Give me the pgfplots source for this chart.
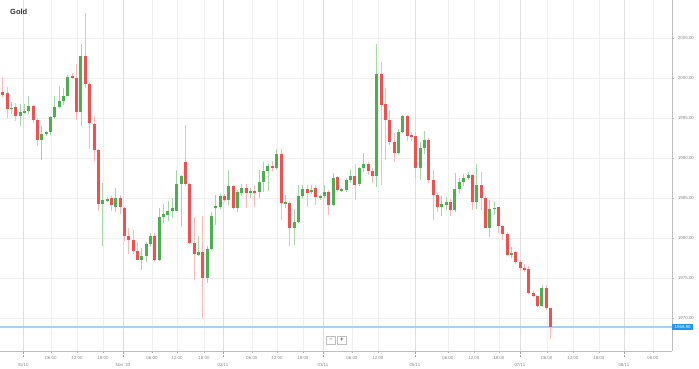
\documentclass[border=0pt]{standalone}
\usepackage{fontspec}
\setmainfont{Liberation Sans}
\usepackage{pgfplots}
\usepackage{pgfplotstable}
\pgfplotsset{compat=1.18}
\definecolor{cgreen}{HTML}{4CAF50}
\definecolor{cred}{HTML}{F44F4F}
\definecolor{pricebox}{HTML}{2196F3}
\definecolor{priceline}{HTML}{A6D3F5}
\definecolor{lbl}{HTML}{8A8A8A}

\pgfplotstableread{
i o h l c
2 1996.1 1997.0 1995.5 1996.3
4 1995.25 1996.7 1994.0 1995.7
5 1995.65 1996.7 1995.5 1995.9
6 1995.9 1997.7 1995.5 1996.5
9 1992.3 1994.0 1989.7 1993.0
10 1993.0 1993.4 1992.7 1993.2
11 1993.2 1995.2 1992.9 1995.1
12 1995.1 1997.75 1994.9 1996.4
13 1996.4 1999.0 1996.2 1997.1
14 1997.1 1998.75 1996.7 1997.75
15 1997.75 2000.4 1997.7 2000.2
18 1995.8 2004.2 1994.0 2002.8
23 1984.25 1986.9 1979.0 1984.75
24 1984.7 1985.1 1984.5 1984.9
26 1983.9 1986.2 1983.3 1985.0
32 1977.25 1978.75 1976.0 1977.75
33 1977.75 1979.5 1977.0 1979.25
34 1979.25 1980.6 1978.9 1980.25
36 1977.25 1983.7 1977.1 1982.6
37 1982.6 1984.3 1981.9 1983.0
38 1982.9 1984.6 1982.1 1983.4
39 1983.4 1985.0 1982.5 1983.75
40 1983.4 1988.5 1983.4 1986.8
41 1986.8 1987.9 1981.4 1987.75
45 1977.9 1980.2 1977.7 1978.2
47 1975.0 1979.0 1974.4 1978.6
48 1978.6 1983.3 1978.5 1982.7
49 1983.8 1985.4 1981.6 1984.0
50 1983.9 1985.5 1983.6 1985.25
52 1984.75 1988.5 1984.1 1986.5
54 1983.7 1986.0 1983.2 1985.7
55 1985.6 1986.8 1985.2 1986.2
57 1985.7 1986.2 1985.0 1985.9
59 1985.7 1988.5 1985.0 1987.0
60 1987.0 1989.5 1985.75 1988.4
61 1988.4 1989.25 1985.9 1989.0
63 1988.8 1991.1 1988.5 1990.5
65 1984.3 1985.4 1983.7 1984.5
67 1981.3 1983.6 1979.1 1982.0
68 1982.0 1986.6 1981.9 1985.2
69 1985.2 1986.6 1984.9 1986.1
71 1985.7 1986.6 1985.5 1986.0
73 1985.0 1985.4 1984.8 1985.2
74 1985.2 1986.6 1984.9 1985.8
76 1984.1 1988.1 1984.0 1987.5
78 1985.9 1986.3 1985.7 1986.1
79 1986.0 1987.5 1985.7 1987.25
80 1987.25 1988.6 1986.9 1987.75
82 1986.7 1988.9 1986.5 1988.7
83 1988.7 1990.6 1988.3 1989.3
86 1987.7 2004.3 1986.4 2000.5
91 1990.6 1993.6 1990.4 1993.3
92 1993.3 1995.4 1993.1 1995.25
96 1988.7 1992.0 1987.25 1991.3
97 1991.3 1993.4 1990.5 1992.3
101 1983.9 1985.2 1982.7 1984.2
102 1984.1 1985.1 1983.5 1984.5
104 1983.5 1988.1 1983.3 1986.1
105 1986.1 1987.5 1985.6 1987.0
106 1987.0 1988.0 1986.5 1987.5
107 1987.5 1988.2 1987.2 1987.9
109 1984.5 1989.25 1983.6 1986.6
112 1981.2 1984.75 1980.1 1983.6
113 1983.6 1984.6 1982.9 1983.8
117 1977.85 1978.9 1977.5 1978.1
124 1971.5 1974.1 1971.4 1973.8
}\greencandles

\pgfplotstableread{
i o h l c
0 1998.2 2000.1 1997.6 1997.9
1 1998.1 1998.9 1995.0 1996.1
3 1996.4 1996.9 1994.6 1995.3
7 1996.5 1996.6 1994.4 1994.75
8 1994.75 1995.0 1991.5 1992.3
16 2000.2 2000.6 1999.9 2000.0
17 2000.05 2001.7 1994.8 1995.8
19 2002.8 2008.1 1998.75 1999.3
20 1999.3 1999.5 1991.1 1994.4
21 1994.3 1995.2 1989.6 1991.0
22 1991.0 1991.1 1983.4 1984.3
25 1985.0 1985.3 1983.4 1984.1
27 1985.0 1985.4 1983.0 1983.9
28 1983.8 1983.9 1979.6 1980.2
29 1980.2 1981.3 1978.0 1979.75
30 1979.75 1981.0 1978.0 1978.4
31 1978.4 1979.5 1977.2 1977.25
35 1980.25 1980.6 1977.0 1977.25
42 1989.5 1994.1 1986.5 1986.75
43 1986.75 1986.9 1979.25 1979.4
44 1979.4 1982.7 1974.75 1978.0
46 1978.3 1982.7 1970.0 1975.0
51 1985.25 1985.5 1984.5 1984.75
53 1986.5 1986.6 1983.5 1983.7
56 1986.2 1986.8 1983.8 1985.6
58 1985.9 1986.6 1983.9 1985.6
62 1989.0 1989.6 1988.4 1988.8
64 1990.5 1991.1 1982.3 1984.4
66 1984.4 1984.6 1979.0 1981.3
70 1986.1 1986.6 1983.9 1985.6
72 1986.3 1986.6 1984.1 1985.1
75 1985.8 1986.0 1982.9 1984.1
77 1987.6 1987.8 1985.8 1986.0
81 1987.75 1989.3 1984.75 1986.7
84 1989.3 1989.5 1987.9 1988.4
85 1988.4 1988.8 1986.9 1987.7
87 2000.5 2002.0 1986.6 1996.6
88 1996.8 1998.75 1989.75 1994.75
89 1994.75 1996.0 1991.6 1992.0
90 1992.0 1993.1 1989.5 1990.6
93 1995.25 1995.4 1992.1 1992.75
94 1992.9 1993.3 1992.1 1992.6
95 1992.7 1993.3 1987.5 1988.7
98 1992.3 1992.5 1986.9 1987.25
99 1987.25 1988.5 1982.25 1985.4
100 1985.4 1985.6 1983.3 1983.9
103 1984.5 1984.9 1982.7 1983.5
108 1987.9 1988.0 1983.5 1984.5
110 1986.6 1988.3 1983.5 1985.0
111 1985.0 1985.2 1981.2 1981.2
114 1983.9 1983.9 1980.6 1981.5
115 1981.5 1981.6 1979.75 1980.5
116 1980.5 1980.75 1977.7 1977.9
118 1978.2 1978.4 1976.8 1977.0
119 1977.0 1977.2 1975.9 1976.2
120 1976.2 1976.8 1975.8 1976.0
121 1976.1 1976.5 1973.0 1973.1
122 1973.1 1973.4 1972.6 1972.75
123 1972.75 1972.8 1971.4 1971.5
125 1973.8 1974.1 1971.0 1971.2
126 1971.2 1971.3 1967.4 1968.9
}\redcandles

\begin{document}
\begin{tikzpicture}
\path[use as bounding box] (0,0) rectangle (699pt,369pt);
\begin{axis}[
  at={(0pt,18pt)}, anchor=south west,
  scale only axis, width=672pt, height=351pt,
  xmin=-0.62, xmax=153.9, ymin=1965.875, ymax=2009.75,
  clip=false,
  axis x line*=bottom, axis y line*=right,
  axis line style={draw=black!25, line width=0.9pt},
  tick align=outside, major tick length=2pt,
  tick style={draw=black!30, line width=0.5pt},
  ytick={1970,1975,1980,1985,1990,1995,2000,2005},
  yticklabel={\pgfmathprintnumber[assume math mode=true, fixed, fixed zerofill, precision=2, 1000 sep={}]{\tick}},
  yticklabel style={font=\fontsize{4.4}{5}\selectfont, text=lbl, xshift=0.5pt},
  xtick={11.10,17.08,23.06,34.32,40.07,46.28,57.31,63.06,69.03,80.3,86.28,102.36,108.34,114.09,125.13,131.1,137.08,149.5},
  xticklabels={06:00,12:00,18:00,06:00,12:00,18:00,06:00,12:00,18:00,06:00,12:00,06:00,12:00,18:00,06:00,12:00,18:00,06:00},
  xticklabel style={font=\fontsize{4.4}{5}\selectfont, text=lbl, yshift=0.5pt},
  extra x ticks={4.67,27.66,50.64,73.63,94.78,118.92,142.83},
  extra x tick labels={31/10,Nov '23,02/11,03/11,05/11,07/11,08/11},
  extra x tick style={major tick length=6pt, tick style={draw=black!35, densely dotted},
     grid style={draw=black!13, line width=0.6pt},
     xticklabel style={yshift=-3.5pt}},
  xmajorgrids, ymajorgrids,
  grid style={draw=black!6, line width=0.6pt},
]
\addplot[priceline, line width=1.6pt, forget plot] coordinates {(-0.62,1968.9) (153.9,1968.9)};
% wicks
\addplot[draw=none, mark=none, forget plot,
  error bars/.cd, y dir=both, y explicit, error mark=none,
  error bar style={draw=cgreen!50!white, line width=0.9pt}]
  table[x=i, y expr={(\thisrow{h}+\thisrow{l})/2}, y error expr={(\thisrow{h}-\thisrow{l})/2}] {\greencandles};
\addplot[draw=none, mark=none, forget plot,
  error bars/.cd, y dir=both, y explicit, error mark=none,
  error bar style={draw=cred!40!white, line width=0.9pt}]
  table[x=i, y expr={(\thisrow{h}+\thisrow{l})/2}, y error expr={(\thisrow{h}-\thisrow{l})/2}] {\redcandles};
% bodies
\addplot[draw=none, mark=none, forget plot,
  error bars/.cd, y dir=both, y explicit, error mark=none,
  error bar style={draw=cgreen, line width=3pt}]
  table[x=i, y expr={(\thisrow{o}+\thisrow{c})/2}, y error expr={max(abs(\thisrow{c}-\thisrow{o})/2,0.08)}] {\greencandles};
\addplot[draw=none, mark=none, forget plot,
  error bars/.cd, y dir=both, y explicit, error mark=none,
  error bar style={draw=cred, line width=3pt}]
  table[x=i, y expr={(\thisrow{o}+\thisrow{c})/2}, y error expr={max(abs(\thisrow{c}-\thisrow{o})/2,0.08)}] {\redcandles};
\node[anchor=west, fill=pricebox, text=white, font=\fontsize{4.4}{5}\selectfont,
  inner xsep=2.5pt, inner ysep=1.3pt] at (axis cs:153.9,1968.9) {1968.90};
\node[anchor=west, text=black!80, font=\fontsize{7.5}{8}\selectfont\bfseries, inner sep=0pt]
  at ([xshift=10pt,yshift=-12pt]rel axis cs:0,1) {Gold};
\end{axis}
\draw[black!25, fill=white, line width=0.5pt] (326pt,25pt) rectangle (335.5pt,33pt);
\draw[black!25, fill=white, line width=0.5pt] (337pt,25pt) rectangle (346.5pt,33pt);
\node[font=\fontsize{6}{6}\selectfont, text=black!70, inner sep=0pt] at (330.75pt,29pt) {−};
\node[font=\fontsize{6}{6}\selectfont\bfseries, text=black!70, inner sep=0pt] at (341.75pt,29pt) {+};
\end{tikzpicture}
\end{document}
